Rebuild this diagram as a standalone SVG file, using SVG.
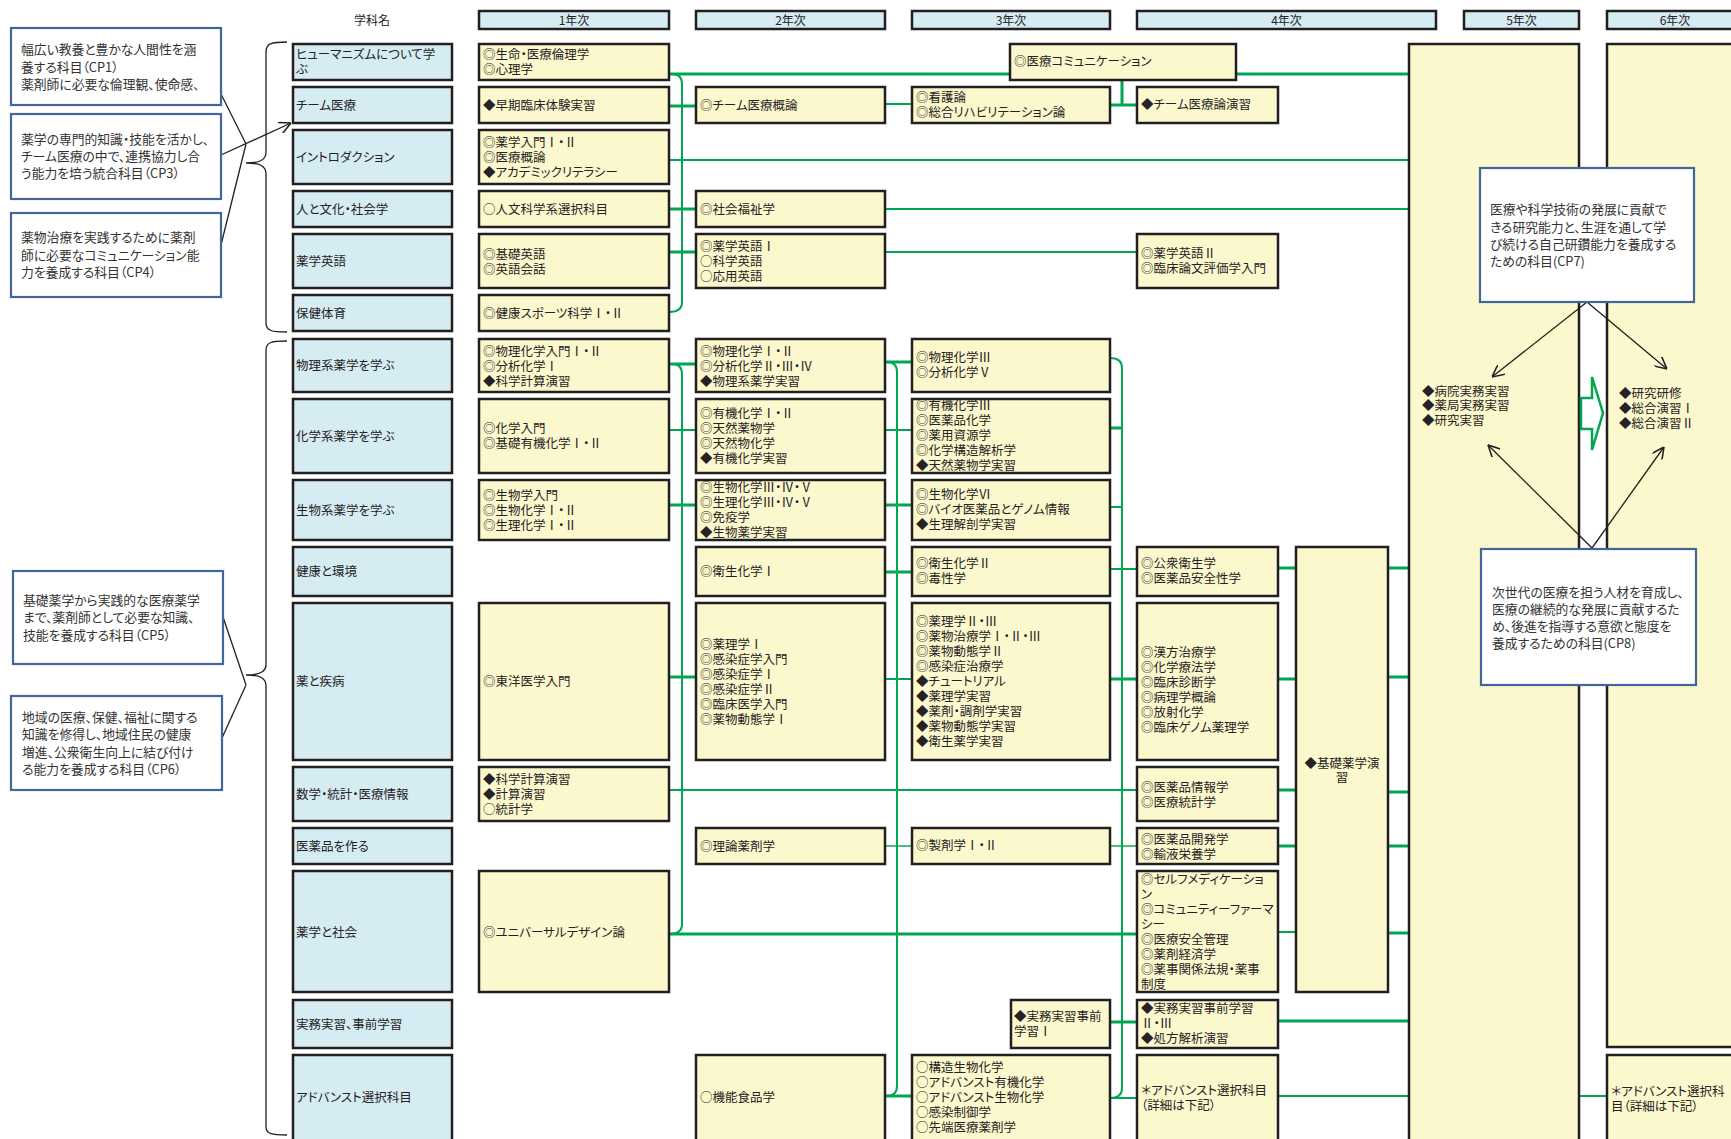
<svg xmlns="http://www.w3.org/2000/svg" width="1731" height="1139" viewBox="0 0 1731 1139">
<style>
.hd{fill:#d5ecf3;stroke:#231f20;stroke-width:2.5}
.cat{fill:#d5ecf3;stroke:#231f20;stroke-width:2.5}
.crs{fill:#fcf8cd;stroke:#231f20;stroke-width:2.5}
.cp{fill:#fff;stroke:#41679a;stroke-width:2.2}
text{font-family:"Noto Sans CJK JP","Noto Sans",sans-serif;font-size:12.5px;fill:#262223;font-feature-settings:"palt"}
.h{font-size:12px;text-anchor:middle}
.mid{text-anchor:middle}
.cpt{font-size:12.8px;fill:#333}
.g{fill:none;stroke:#00a651;stroke-width:3}
.gt{stroke-width:2}
.gl{stroke-width:1.8;stroke:#4cbf7c}
.bk{fill:none;stroke:#231f20;stroke-width:1.3}
</style>
<defs>
<marker id="ah" markerUnits="userSpaceOnUse" markerWidth="12" markerHeight="12" refX="10" refY="5" orient="auto" viewBox="0 0 10 10">
<path d="M0,0 L10,5 L0,10" fill="none" stroke="#231f20" stroke-width="1.3"/>
</marker>
</defs>

<g id="headers">
<text class="h" x="372" y="24.5">学科名</text>
<rect class="hd" x="479" y="11" width="190" height="18"/><text class="h" x="574" y="24.5">1年次</text>
<rect class="hd" x="696" y="11" width="189" height="18"/><text class="h" x="790.5" y="24.5">2年次</text>
<rect class="hd" x="912" y="11" width="198" height="18"/><text class="h" x="1011" y="24.5">3年次</text>
<rect class="hd" x="1137" y="11" width="299" height="18"/><text class="h" x="1286.5" y="24.5">4年次</text>
<rect class="hd" x="1464" y="11" width="115" height="18"/><text class="h" x="1521.5" y="24.5">5年次</text>
<rect class="hd" x="1607" y="11" width="136" height="18"/><text class="h" x="1675" y="24.5">6年次</text>
</g>

<g id="connectors">
<path class="g" d="M669 74H1010M1236 74H1409"/>
<path class="g" d="M669 106H696"/>
<path class="g gt" d="M885 104H912"/>
<path class="g" d="M1110 105H1137M1122 80V105"/>
<path class="g gt" d="M669 160H1409"/>
<path class="g" d="M669 209H696"/>
<path class="g gt" d="M885 209H1409"/>
<path class="g" d="M669 252H696"/>
<path class="g gt" d="M885 252H1137"/>
<path class="g gt" d="M672 74Q682 74 682 84V302Q682 312 669 312"/>
<path class="g" d="M669 364H696M885 362H912"/>
<path class="g gt" d="M669 430H696M885 430H912"/>
<path class="g" d="M1110 428H1122"/>
<path class="g" d="M669 505H696M885 505H912"/>
<path class="g gt" d="M1110 507H1122"/>
<path class="g" d="M885 572H912"/>
<path class="g gt" d="M1110 569H1137"/>
<path class="g" d="M1278 568H1296M1388 568H1409"/>
<path class="g" d="M669 677H696"/>
<path class="g gt" d="M885 679H912"/>
<path class="g" d="M1110 679H1137M1278 679H1296M1388 677H1409"/>
<path class="g gt" d="M669 790H1137"/>
<path class="g" d="M1278 790H1296M1388 792H1409"/>
<path class="g gl" d="M885 846H912M1110 846H1137"/>
<path class="g" d="M1278 846H1296M1388 846H1409"/>
<path class="g" d="M669 934H1137"/>
<path class="g gt" d="M1278 932H1296"/>
<path class="g" d="M1388 933H1409"/>
<path class="g" d="M1110 1022H1137M1278 1021H1409"/>
<path class="g" d="M885 1096H912"/>
<path class="g gt" d="M1110 1098H1137M1278 1096H1409M1579 1096H1607"/>
<path class="g gt" d="M672 364Q682 364 682 374V924Q682 934 669 934"/>
<path class="g gt" d="M887 362Q897 362 897 372V1086Q897 1096 886 1096"/>
<path class="g gt" d="M1110 358Q1122 358 1122 368V1088Q1122 1098 1110 1098"/>
</g>

<g id="categories">
<g id="cat-humanism"><rect class="cat" x="293" y="44" width="159" height="36"/><text x="296"><tspan x="296" y="58.5">ヒューマニズムについて学</tspan><tspan x="296" y="73.5">ぶ</tspan></text></g>
<g id="cat-team"><rect class="cat" x="293" y="87" width="159" height="36"/><text x="296" y="109.5">チーム医療</text></g>
<g id="cat-intro"><rect class="cat" x="293" y="130" width="159" height="54"/><text x="296" y="161.5">イントロダクション</text></g>
<g id="cat-culture"><rect class="cat" x="293" y="191" width="159" height="36"/><text x="296" y="213.5">人と文化・社会学</text></g>
<g id="cat-english"><rect class="cat" x="293" y="234" width="159" height="54"/><text x="296" y="265.5">薬学英語</text></g>
<g id="cat-pe"><rect class="cat" x="293" y="295" width="159" height="36"/><text x="296" y="317.5">保健体育</text></g>
<g id="cat-phys"><rect class="cat" x="293" y="339" width="159" height="53"/><text x="296" y="369.5">物理系薬学を学ぶ</text></g>
<g id="cat-chem"><rect class="cat" x="293" y="399" width="159" height="74"/><text x="296" y="440.5">化学系薬学を学ぶ</text></g>
<g id="cat-bio"><rect class="cat" x="293" y="480" width="159" height="60"/><text x="296" y="514.5">生物系薬学を学ぶ</text></g>
<g id="cat-health"><rect class="cat" x="293" y="547" width="159" height="49"/><text x="296" y="575.5">健康と環境</text></g>
<g id="cat-disease"><rect class="cat" x="293" y="603" width="159" height="157"/><text x="296" y="685.5">薬と疾病</text></g>
<g id="cat-math"><rect class="cat" x="293" y="767" width="159" height="54"/><text x="296" y="798.5">数学・統計・医療情報</text></g>
<g id="cat-make"><rect class="cat" x="293" y="828" width="159" height="36"/><text x="296" y="850.5">医薬品を作る</text></g>
<g id="cat-society"><rect class="cat" x="293" y="871" width="159" height="121"/><text x="296" y="936.5">薬学と社会</text></g>
<g id="cat-practice"><rect class="cat" x="293" y="1000" width="159" height="48"/><text x="296" y="1028.5">実務実習、事前学習</text></g>
<g id="cat-advanced"><rect class="cat" x="293" y="1055" width="159" height="95"/><text x="296" y="1101.5">アドバンスト選択科目</text></g>
</g>

<g id="year1">
<g id="y1-ethics"><rect class="crs" x="479" y="44" width="190" height="36"/><text><tspan x="483" y="58.5">◎生命・医療倫理学</tspan><tspan x="483" y="73.5">◎心理学</tspan></text></g>
<g id="y1-early"><rect class="crs" x="479" y="87" width="190" height="36"/><text x="483" y="109.5">◆早期臨床体験実習</text></g>
<g id="y1-intro"><rect class="crs" x="479" y="130" width="190" height="54"/><text><tspan x="483" y="146.5">◎薬学入門Ⅰ・Ⅱ</tspan><tspan x="483" y="161.5">◎医療概論</tspan><tspan x="483" y="176.5">◆アカデミックリテラシー</tspan></text></g>
<g id="y1-humanities"><rect class="crs" x="479" y="191" width="190" height="36"/><text x="483" y="213.5">○人文科学系選択科目</text></g>
<g id="y1-english"><rect class="crs" x="479" y="234" width="190" height="54"/><text><tspan x="483" y="258.5">◎基礎英語</tspan><tspan x="483" y="273.5">◎英語会話</tspan></text></g>
<g id="y1-sports"><rect class="crs" x="479" y="295" width="190" height="36"/><text x="483" y="317.5">◎健康スポーツ科学Ⅰ・Ⅱ</text></g>
<g id="y1-phys"><rect class="crs" x="479" y="339" width="190" height="53"/><text><tspan x="483" y="355.5">◎物理化学入門Ⅰ・Ⅱ</tspan><tspan x="483" y="370.5">◎分析化学Ⅰ</tspan><tspan x="483" y="385.5">◆科学計算演習</tspan></text></g>
<g id="y1-chem"><rect class="crs" x="479" y="399" width="190" height="74"/><text><tspan x="483" y="432.5">◎化学入門</tspan><tspan x="483" y="447.5">◎基礎有機化学Ⅰ・Ⅱ</tspan></text></g>
<g id="y1-bio"><rect class="crs" x="479" y="480" width="190" height="60"/><text><tspan x="483" y="499.5">◎生物学入門</tspan><tspan x="483" y="514.5">◎生物化学Ⅰ・Ⅱ</tspan><tspan x="483" y="529.5">◎生理化学Ⅰ・Ⅱ</tspan></text></g>
<g id="y1-kampo"><rect class="crs" x="479" y="603" width="190" height="157"/><text x="483" y="685.5">◎東洋医学入門</text></g>
<g id="y1-math"><rect class="crs" x="479" y="767" width="190" height="54"/><text><tspan x="483" y="783.5">◆科学計算演習</tspan><tspan x="483" y="798.5">◆計算演習</tspan><tspan x="483" y="813.5">○統計学</tspan></text></g>
<g id="y1-universal"><rect class="crs" x="479" y="871" width="190" height="121"/><text x="483" y="936.5">◎ユニバーサルデザイン論</text></g>
</g>

<g id="year2">
<g id="y2-team"><rect class="crs" x="696" y="87" width="189" height="36"/><text x="700" y="109.5">◎チーム医療概論</text></g>
<g id="y2-welfare"><rect class="crs" x="696" y="191" width="189" height="36"/><text x="700" y="213.5">◎社会福祉学</text></g>
<g id="y2-english"><rect class="crs" x="696" y="234" width="189" height="54"/><text><tspan x="700" y="250.5">◎薬学英語Ⅰ</tspan><tspan x="700" y="265.5">○科学英語</tspan><tspan x="700" y="280.5">○応用英語</tspan></text></g>
<g id="y2-phys"><rect class="crs" x="696" y="339" width="189" height="53"/><text><tspan x="700" y="355.5">◎物理化学Ⅰ・Ⅱ</tspan><tspan x="700" y="370.5">◎分析化学Ⅱ・Ⅲ・Ⅳ</tspan><tspan x="700" y="385.5">◆物理系薬学実習</tspan></text></g>
<g id="y2-chem"><rect class="crs" x="696" y="399" width="189" height="74"/><text><tspan x="700" y="417.5">◎有機化学Ⅰ・Ⅱ</tspan><tspan x="700" y="432.5">◎天然薬物学</tspan><tspan x="700" y="447.5">◎天然物化学</tspan><tspan x="700" y="462.5">◆有機化学実習</tspan></text></g>
<g id="y2-bio"><rect class="crs" x="696" y="480" width="189" height="60"/><text><tspan x="700" y="491.5">◎生物化学Ⅲ・Ⅳ・Ⅴ</tspan><tspan x="700" y="506.5">◎生理化学Ⅲ・Ⅳ・Ⅴ</tspan><tspan x="700" y="521.5">◎免疫学</tspan><tspan x="700" y="536.5">◆生物薬学実習</tspan></text></g>
<g id="y2-hygiene"><rect class="crs" x="696" y="547" width="189" height="49"/><text x="700" y="575.5">◎衛生化学Ⅰ</text></g>
<g id="y2-pharm"><rect class="crs" x="696" y="603" width="189" height="157"/><text><tspan x="700" y="648.5">◎薬理学Ⅰ</tspan><tspan x="700" y="663.5">◎感染症学入門</tspan><tspan x="700" y="678.5">◎感染症学Ⅰ</tspan><tspan x="700" y="693.5">◎感染症学Ⅱ</tspan><tspan x="700" y="708.5">◎臨床医学入門</tspan><tspan x="700" y="723.5">◎薬物動態学Ⅰ</tspan></text></g>
<g id="y2-theory"><rect class="crs" x="696" y="828" width="189" height="36"/><text x="700" y="850.5">◎理論薬剤学</text></g>
<g id="y2-food"><rect class="crs" x="696" y="1055" width="189" height="95"/><text x="700" y="1101.5">○機能食品学</text></g>
</g>

<g id="year3">
<g id="y3-comm"><rect class="crs" x="1010" y="44" width="226" height="36"/><text x="1014" y="65.5">◎医療コミュニケーション</text></g>
<g id="y3-nursing"><rect class="crs" x="912" y="87" width="198" height="36"/><text><tspan x="916" y="101.5">◎看護論</tspan><tspan x="916" y="116.5">◎総合リハビリテーション論</tspan></text></g>
<g id="y3-phys"><rect class="crs" x="912" y="339" width="198" height="53"/><text><tspan x="916" y="361.5">◎物理化学Ⅲ</tspan><tspan x="916" y="376.5">◎分析化学Ⅴ</tspan></text></g>
<g id="y3-chem"><rect class="crs" x="912" y="399" width="198" height="74"/><text><tspan x="916" y="409.5">◎有機化学Ⅲ</tspan><tspan x="916" y="424.5">◎医薬品化学</tspan><tspan x="916" y="439.5">◎薬用資源学</tspan><tspan x="916" y="454.5">◎化学構造解析学</tspan><tspan x="916" y="469.5">◆天然薬物学実習</tspan></text></g>
<g id="y3-bio"><rect class="crs" x="912" y="480" width="198" height="60"/><text><tspan x="916" y="498.5">◎生物化学Ⅵ</tspan><tspan x="916" y="513.5">◎バイオ医薬品とゲノム情報</tspan><tspan x="916" y="528.5">◆生理解剖学実習</tspan></text></g>
<g id="y3-hygiene"><rect class="crs" x="912" y="547" width="198" height="49"/><text><tspan x="916" y="567.5">◎衛生化学Ⅱ</tspan><tspan x="916" y="582.5">◎毒性学</tspan></text></g>
<g id="y3-pharm"><rect class="crs" x="912" y="603" width="198" height="157"/><text><tspan x="916" y="625.5">◎薬理学Ⅱ・Ⅲ</tspan><tspan x="916" y="640.5">◎薬物治療学Ⅰ・Ⅱ・Ⅲ</tspan><tspan x="916" y="655.5">◎薬物動態学Ⅱ</tspan><tspan x="916" y="670.5">◎感染症治療学</tspan><tspan x="916" y="685.5">◆チュートリアル</tspan><tspan x="916" y="700.5">◆薬理学実習</tspan><tspan x="916" y="715.5">◆薬剤・調剤学実習</tspan><tspan x="916" y="730.5">◆薬物動態学実習</tspan><tspan x="916" y="745.5">◆衛生薬学実習</tspan></text></g>
<g id="y3-formulation"><rect class="crs" x="912" y="828" width="198" height="36"/><text x="916" y="849.5">◎製剤学Ⅰ・Ⅱ</text></g>
<g id="y3-prep"><rect class="crs" x="1011" y="1000" width="99" height="48"/><text><tspan x="1014" y="1020.5">◆実務実習事前</tspan><tspan x="1014" y="1035.5">学習Ⅰ</tspan></text></g>
<g id="y3-advanced"><rect class="crs" x="912" y="1055" width="198" height="95"/><text><tspan x="916" y="1071.5">○構造生物化学</tspan><tspan x="916" y="1086.5">○アドバンスト有機化学</tspan><tspan x="916" y="1101.5">○アドバンスト生物化学</tspan><tspan x="916" y="1116.5">○感染制御学</tspan><tspan x="916" y="1131.5">○先端医療薬剤学</tspan></text></g>
</g>

<g id="year4">
<g id="y4-team"><rect class="crs" x="1137" y="87" width="141" height="36"/><text x="1141" y="108.5">◆チーム医療論演習</text></g>
<g id="y4-english"><rect class="crs" x="1137" y="234" width="141" height="54"/><text><tspan x="1141" y="257.5">◎薬学英語Ⅱ</tspan><tspan x="1141" y="272.5">◎臨床論文評価学入門</tspan></text></g>
<g id="y4-public"><rect class="crs" x="1137" y="547" width="141" height="49"/><text><tspan x="1141" y="567.5">◎公衆衛生学</tspan><tspan x="1141" y="582.5">◎医薬品安全性学</tspan></text></g>
<g id="y4-kampo"><rect class="crs" x="1137" y="603" width="141" height="157"/><text><tspan x="1141" y="656.5">◎漢方治療学</tspan><tspan x="1141" y="671.5">◎化学療法学</tspan><tspan x="1141" y="686.5">◎臨床診断学</tspan><tspan x="1141" y="701.5">◎病理学概論</tspan><tspan x="1141" y="716.5">◎放射化学</tspan><tspan x="1141" y="731.5">◎臨床ゲノム薬理学</tspan></text></g>
<g id="y4-info"><rect class="crs" x="1137" y="767" width="141" height="54"/><text><tspan x="1141" y="791.5">◎医薬品情報学</tspan><tspan x="1141" y="806.5">◎医療統計学</tspan></text></g>
<g id="y4-dev"><rect class="crs" x="1137" y="828" width="141" height="36"/><text><tspan x="1141" y="843.5">◎医薬品開発学</tspan><tspan x="1141" y="858.5">◎輸液栄養学</tspan></text></g>
<g id="y4-self"><rect class="crs" x="1137" y="871" width="141" height="121"/><text><tspan x="1141" y="883.5">◎セルフメディケーショ</tspan><tspan x="1141" y="898.5">ン</tspan><tspan x="1141" y="913.5">◎コミュニティーファーマ</tspan><tspan x="1141" y="928.5">シー</tspan><tspan x="1141" y="943.5">◎医療安全管理</tspan><tspan x="1141" y="958.5">◎薬剤経済学</tspan><tspan x="1141" y="973.5">◎薬事関係法規・薬事</tspan><tspan x="1141" y="988.5">制度</tspan></text></g>
<g id="y4-prep"><rect class="crs" x="1137" y="1000" width="141" height="48"/><text><tspan x="1141" y="1012.5">◆実務実習事前学習</tspan><tspan x="1141" y="1027.5">Ⅱ・Ⅲ</tspan><tspan x="1141" y="1042.5">◆処方解析演習</tspan></text></g>
<g id="y4-advanced"><rect class="crs" x="1137" y="1055" width="141" height="95"/><text><tspan x="1141" y="1094.5">＊アドバンスト選択科目</tspan><tspan x="1141" y="1109.5">（詳細は下記）</tspan></text></g>
<g id="y4-basic"><rect class="crs" x="1296" y="547" width="92" height="445"/><text class="mid"><tspan x="1342" y="767.5">◆基礎薬学演</tspan><tspan x="1342" y="781.5">習</tspan></text></g>
</g>

<g id="year5">
<rect class="crs" x="1409" y="44" width="170" height="1110"/>
<text><tspan x="1422" y="395.5">◆病院実務実習</tspan><tspan x="1422" y="410">◆薬局実務実習</tspan><tspan x="1422" y="424.5">◆研究実習</tspan></text>
</g>
<g id="year6">
<rect class="crs" x="1607" y="44" width="140" height="1003"/>
<text><tspan x="1619" y="397.5">◆研究研修</tspan><tspan x="1619" y="412.5">◆総合演習Ⅰ</tspan><tspan x="1619" y="427.5">◆総合演習Ⅱ</tspan></text>
</g>
<g id="year6-advanced">
<rect class="crs" x="1607" y="1055" width="140" height="95"/>
<text><tspan x="1611" y="1095.5">＊アドバンスト選択科</tspan><tspan x="1611" y="1110.5">目（詳細は下記）</tspan></text>
</g>
<polygon id="arrow-5to6" points="1581,398 1592,398 1592,377 1603,413 1592,450 1592,429 1581,429" fill="#fff" stroke="#00a651" stroke-width="2.5"/>

<g id="braces">
<path class="bk" d="M287 42C272 42 266 43 266 52L266 152C266 160 260 163 246 163C260 163 266 166 266 174L266 323C266 331 272 332 287 332"/>
<path class="bk" d="M287 341C272 341 266 342 266 350L266 665C266 672 260 675 246 675C260 675 266 678 266 686L266 1127C266 1134 272 1135 287 1135"/>
</g>

<g id="cp-links">
<path class="bk" d="M221 94L246 144M221 245L246 144"/>
<path class="bk" d="M221 155L291 123" marker-end="url(#ah)"/>
<path class="bk" d="M223 617L246 685M222 738L246 685"/>
<path class="bk" d="M1587 302L1492 377" marker-end="url(#ah)"/>
<path class="bk" d="M1587 302L1667 369" marker-end="url(#ah)"/>
<path class="bk" d="M1592 548L1488 445" marker-end="url(#ah)"/>
<path class="bk" d="M1592 548L1664 447" marker-end="url(#ah)"/>
</g>

<g id="cp1"><rect class="cp" x="11" y="28" width="210" height="77"/><text class="cpt"><tspan x="21" y="53.5">幅広い教養と豊かな人間性を涵</tspan><tspan x="21" y="71.5">養する科目（CP1）</tspan><tspan x="21" y="88.5">薬剤師に必要な倫理観、使命感、</tspan></text></g>
<g id="cp3"><rect class="cp" x="11" y="114" width="210" height="85"/><text class="cpt"><tspan x="21" y="143.5">薬学の専門的知識・技能を活かし、</tspan><tspan x="21" y="160.5">チーム医療の中で、連携協力し合</tspan><tspan x="21" y="177.5">う能力を培う統合科目（CP3）</tspan></text></g>
<g id="cp4"><rect class="cp" x="11" y="213" width="210" height="84"/><text class="cpt"><tspan x="21" y="241.5">薬物治療を実践するために薬剤</tspan><tspan x="21" y="259.5">師に必要なコミュニケーション能</tspan><tspan x="21" y="276.5">力を養成する科目（CP4）</tspan></text></g>
<g id="cp5"><rect class="cp" x="13" y="571" width="210" height="93"/><text class="cpt"><tspan x="23" y="604.5">基礎薬学から実践的な医療薬学</tspan><tspan x="23" y="621.5">まで、薬剤師として必要な知識、</tspan><tspan x="23" y="639.5">技能を養成する科目（CP5）</tspan></text></g>
<g id="cp6"><rect class="cp" x="11" y="696" width="211" height="94"/><text class="cpt"><tspan x="22" y="721.5">地域の医療、保健、福祉に関する</tspan><tspan x="22" y="738.5">知識を修得し、地域住民の健康</tspan><tspan x="22" y="756.5">増進、公衆衛生向上に結び付け</tspan><tspan x="22" y="773.5">る能力を養成する科目（CP6）</tspan></text></g>
<g id="cp7"><rect class="cp" x="1480" y="168" width="214" height="134"/><text class="cpt"><tspan x="1490" y="213.5">医療や科学技術の発展に貢献で</tspan><tspan x="1490" y="231.5">きる研究能力と、生涯を通して学</tspan><tspan x="1490" y="248.5">び続ける自己研鑽能力を養成する</tspan><tspan x="1490" y="265.5">ための科目(CP7)</tspan></text></g>
<g id="cp8"><rect class="cp" x="1481" y="549" width="215" height="136"/><text class="cpt"><tspan x="1492" y="596.5">次世代の医療を担う人材を育成し、</tspan><tspan x="1492" y="613.5">医療の継続的な発展に貢献するた</tspan><tspan x="1492" y="630.5">め、後進を指導する意欲と態度を</tspan><tspan x="1492" y="647.5">養成するための科目(CP8)</tspan></text></g>
</svg>
